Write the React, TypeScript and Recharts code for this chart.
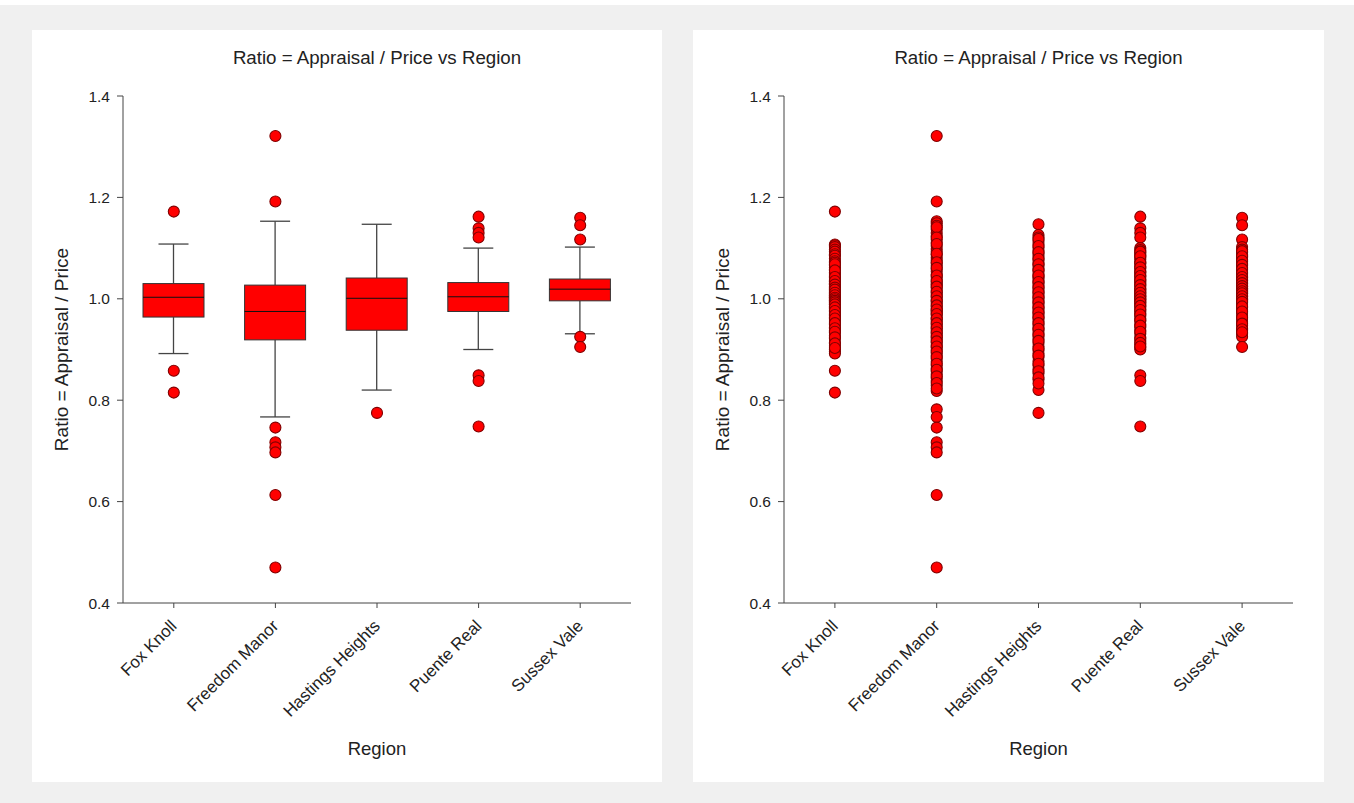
import { ComposedChart, ScatterChart, Bar, Scatter, XAxis, YAxis, Label } from 'recharts'

const regions = ['Fox Knoll', 'Freedom Manor', 'Hastings Heights', 'Puente Real', 'Sussex Vale']

// ratio = appraisal / price
const foxKnoll = [
  1.172, 1.107, 1.105, 1.102, 1.097, 1.093, 1.088, 1.085, 1.079, 1.074, 1.071, 1.066, 1.061, 1.058,
  1.052, 1.049, 1.045, 1.041, 1.037, 1.034, 1.031, 1.03, 1.027, 1.024, 1.02, 1.017, 1.014, 1.011,
  1.009, 1.006, 1.004, 1.003, 1.0, 0.997, 0.994, 0.991, 0.988, 0.985, 0.981, 0.978, 0.974, 0.97,
  0.966, 0.963, 0.958, 0.954, 0.949, 0.944, 0.938, 0.933, 0.927, 0.921, 0.914, 0.907, 0.9, 0.896,
  0.892, 0.858, 0.815, 1.068, 1.056, 1.043, 1.035, 1.028, 1.022, 1.018, 1.012, 1.007, 1.002, 0.999,
  0.996, 0.993, 0.989, 0.983, 0.976, 0.968, 0.961, 0.952, 0.942, 0.935, 0.924, 0.912, 0.903,
]
const freedomManor = [
  1.321, 1.192, 1.153, 1.149, 1.144, 1.137, 1.13, 1.124, 1.117, 1.111, 1.104, 1.098, 1.093, 1.087,
  1.081, 1.076, 1.07, 1.065, 1.059, 1.054, 1.048, 1.043, 1.038, 1.033, 1.029, 1.027, 1.022, 1.017,
  1.012, 1.008, 1.003, 0.998, 0.994, 0.99, 0.985, 0.981, 0.977, 0.975, 0.972, 0.968, 0.963, 0.959,
  0.955, 0.95, 0.946, 0.941, 0.937, 0.932, 0.928, 0.923, 0.919, 0.914, 0.909, 0.904, 0.899, 0.893,
  0.888, 0.882, 0.876, 0.869, 0.863, 0.857, 0.851, 0.844, 0.838, 0.829, 0.818, 0.782, 0.767, 0.746,
  0.717, 0.707, 0.697, 0.613, 0.47, 1.141, 1.121, 1.108, 1.089, 1.072, 1.061, 1.046, 1.035, 1.024,
  1.014, 1.005, 0.996, 0.987, 0.979, 0.97, 0.961, 0.952, 0.943, 0.934, 0.925, 0.916, 0.906, 0.896,
  0.885, 0.872, 0.86, 0.847, 0.834, 0.823,
]
const hastingsHeights = [
  1.147, 1.126, 1.121, 1.114, 1.108, 1.101, 1.095, 1.089, 1.083, 1.077, 1.071, 1.066, 1.06, 1.055,
  1.049, 1.044, 1.041, 1.036, 1.031, 1.026, 1.021, 1.016, 1.011, 1.006, 1.001, 0.996, 0.991, 0.986,
  0.981, 0.976, 0.971, 0.966, 0.961, 0.955, 0.949, 0.943, 0.938, 0.932, 0.926, 0.92, 0.913, 0.906,
  0.899, 0.892, 0.885, 0.877, 0.869, 0.861, 0.853, 0.841, 0.82, 0.775, 1.118, 1.104, 1.092, 1.079,
  1.068, 1.057, 1.046, 1.033, 1.023, 1.013, 1.003, 0.993, 0.983, 0.973, 0.963, 0.952, 0.941, 0.929,
  0.917, 0.902, 0.888, 0.872, 0.857, 0.845, 0.833,
]
const puenteReal = [
  1.162, 1.139, 1.13, 1.121, 1.1, 1.096, 1.091, 1.087, 1.082, 1.078, 1.073, 1.069, 1.064, 1.06,
  1.055, 1.051, 1.047, 1.043, 1.039, 1.035, 1.032, 1.029, 1.025, 1.021, 1.017, 1.014, 1.01, 1.007,
  1.004, 1.001, 0.998, 0.995, 0.991, 0.988, 0.984, 0.98, 0.975, 0.971, 0.966, 0.961, 0.956, 0.95,
  0.944, 0.938, 0.931, 0.924, 0.917, 0.91, 0.904, 0.9, 0.849, 0.838, 0.748, 1.093, 1.084, 1.071,
  1.062, 1.053, 1.045, 1.037, 1.027, 1.019, 1.012, 1.005, 0.999, 0.993, 0.986, 0.978, 0.969, 0.958,
  0.947, 0.935, 0.921, 0.913, 0.906,
]
const sussexVale = [
  1.16, 1.145, 1.117, 1.102, 1.097, 1.092, 1.087, 1.082, 1.078, 1.073, 1.069, 1.065, 1.061, 1.057,
  1.053, 1.049, 1.045, 1.042, 1.039, 1.036, 1.033, 1.03, 1.027, 1.024, 1.021, 1.019, 1.016, 1.013,
  1.01, 1.007, 1.004, 1.001, 0.998, 0.996, 0.992, 0.988, 0.983, 0.978, 0.972, 0.966, 0.96, 0.954,
  0.948, 0.942, 0.937, 0.931, 0.925, 0.905, 1.094, 1.084, 1.075, 1.067, 1.059, 1.051, 1.043, 1.037,
  1.031, 1.025, 1.02, 1.015, 1.011, 1.005, 0.999, 0.994, 0.985, 0.975, 0.963, 0.951, 0.94, 0.934,
]
const ratiosByRegion = [foxKnoll, freedomManor, hastingsHeights, puenteReal, sussexVale]

// box plot stats per region
const whiskerLow = [0.892, 0.767, 0.82, 0.9, 0.931]
const q1 = [0.964, 0.919, 0.938, 0.975, 0.996]
const median = [1.003, 0.975, 1.001, 1.004, 1.019]
const q3 = [1.03, 1.027, 1.041, 1.032, 1.039]
const whiskerHigh = [1.108, 1.153, 1.147, 1.1, 1.102]

const yTicks = [0.4, 0.6, 0.8, 1.0, 1.2, 1.4]
const xTicks = [0, 1, 2, 3, 4]

const title = 'Ratio = Appraisal / Price vs Region'
const yLabel = 'Ratio = Appraisal / Price'
const xLabel = 'Region'

const font = 'Arial, "Liberation Sans", sans-serif'
const axisColor = '#444'
const red = '#ff0000'

const boxData = regions.map((region, i) => ({
  x: i,
  region,
  range: [whiskerLow[i], whiskerHigh[i]],
  q1: q1[i],
  median: median[i],
  q3: q3[i],
}))

const outlierData = ratiosByRegion.flatMap((vals, i) =>
  vals
    .filter((v) => v > whiskerHigh[i] + 0.0005 || v < whiskerLow[i] - 0.0005)
    .map((v) => ({ x: i, ratio: v }))
)

const pointData = ratiosByRegion.flatMap((vals, i) => vals.map((v) => ({ x: i, ratio: v })))

function BoxShape(props: any) {
  const { x, y, width, height } = props
  const d = props.payload ?? props
  const [lo, hi] = d.range
  // bar spans [lo, hi], so the axis scale is linear between y and y + height
  const toY = (v: number) => y + ((hi - v) / (hi - lo)) * height
  const cx = x + width / 2
  const cap = 15
  const top = toY(d.q3)
  const bottom = toY(d.q1)
  return (
    <g>
      <line x1={cx} x2={cx} y1={y} y2={top} stroke={axisColor} strokeWidth={1.3} />
      <line x1={cx} x2={cx} y1={bottom} y2={y + height} stroke={axisColor} strokeWidth={1.3} />
      <line x1={cx - cap} x2={cx + cap} y1={y} y2={y} stroke={axisColor} strokeWidth={1.3} />
      <line x1={cx - cap} x2={cx + cap} y1={y + height} y2={y + height} stroke={axisColor} strokeWidth={1.3} />
      <rect x={x} y={top} width={width} height={bottom - top} fill={red} stroke="#333" strokeWidth={1} />
      <line x1={x} x2={x + width} y1={toY(d.median)} y2={toY(d.median)} stroke="#111" strokeWidth={1} />
    </g>
  )
}

const Dot = (p: any) => (
  <circle cx={p.cx} cy={p.cy} r={5.5} fill={red} stroke="#800000" strokeWidth={1.1} />
)

const RegionTick = ({ x, y, payload }: any) => (
  <text
    x={x + 4}
    y={y + 17}
    transform={`rotate(-45, ${x + 4}, ${y + 17})`}
    textAnchor="end"
    fontSize={17}
    fontFamily={font}
    fill="#222"
  >
    {regions[payload.value]}
  </text>
)

const YTitle = ({ viewBox }: any) => {
  const tx = viewBox.x + 36
  const ty = viewBox.y + viewBox.height / 2
  return (
    <text x={tx} y={ty} transform={`rotate(-90, ${tx}, ${ty})`} textAnchor="middle" fontSize={19} fontFamily={font} fill="#222">
      {yLabel}
    </text>
  )
}

const XTitle = ({ viewBox }: any) => (
  <text x={viewBox.x + viewBox.width / 2} y={viewBox.y + 152} textAnchor="middle" fontSize={18.5} fontFamily={font} fill="#222">
    {xLabel}
  </text>
)

const margin = { top: 66, right: 31, bottom: 0, left: 0 }

function Panel({ left, width, children }: any) {
  return (
    <div style={{ position: 'absolute', left, top: 30, width, height: 752, background: '#fff' }}>
      <svg width={width} height={60} style={{ position: 'absolute', left: 0, top: 0 }}>
        <text x={91 + (width - 122) / 2} y={34} textAnchor="middle" fontSize={18.7} fontFamily={font} fill="#222">
          {title}
        </text>
      </svg>
      <div style={{ position: 'absolute', left: 0, top: 0 }}>{children}</div>
    </div>
  )
}

const xAxisProps = {
  type: 'number' as const,
  dataKey: 'x',
  domain: [-0.5, 4.5],
  ticks: xTicks,
  allowDataOverflow: true,
  height: 179,
  tickSize: 5,
  tickMargin: 2,
  interval: 0 as const,
  axisLine: { stroke: axisColor },
  tickLine: { stroke: axisColor },
  tick: <RegionTick />,
}

const yAxisProps = {
  type: 'number' as const,
  domain: [0.4, 1.4],
  ticks: yTicks,
  allowDataOverflow: true,
  width: 91,
  tickSize: 6,
  tickMargin: 7,
  interval: 0 as const,
  axisLine: { stroke: axisColor },
  tickLine: { stroke: axisColor },
  tick: { fill: '#222', fontSize: 15.5, fontFamily: font },
  tickFormatter: (v: number) => v.toFixed(1),
}

export default function App() {
  return (
    <div style={{ position: 'absolute', left: 0, top: 0, width: 1354, height: 803, background: '#fff', fontFamily: font }}>
      <div style={{ position: 'absolute', left: 0, top: 5, width: 1354, height: 798, background: '#f0f0f0' }} />
      <Panel left={32} width={630}>
        <ComposedChart width={630} height={752} data={boxData} margin={margin}>
          <XAxis {...xAxisProps}>
            <Label content={<XTitle />} />
          </XAxis>
          <YAxis {...yAxisProps}>
            <Label content={<YTitle />} />
          </YAxis>
          <Bar dataKey="range" barSize={61} shape={<BoxShape />} isAnimationActive={false} />
          <Scatter data={outlierData} dataKey="ratio" shape={<Dot />} isAnimationActive={false} />
        </ComposedChart>
      </Panel>
      <Panel left={693} width={631}>
        <ScatterChart width={631} height={752} margin={margin}>
          <XAxis {...xAxisProps}>
            <Label content={<XTitle />} />
          </XAxis>
          <YAxis {...yAxisProps} dataKey="ratio">
            <Label content={<YTitle />} />
          </YAxis>
          <Scatter data={pointData} dataKey="ratio" shape={<Dot />} isAnimationActive={false} />
        </ScatterChart>
      </Panel>
    </div>
  )
}
